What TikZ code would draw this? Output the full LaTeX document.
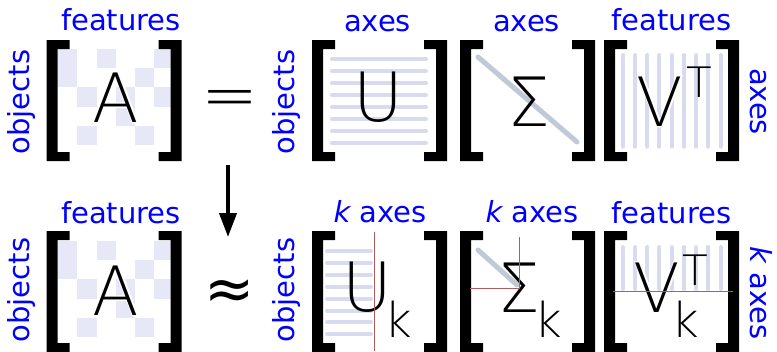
\documentclass[tikz,border=0pt]{standalone}
\usepackage{fontspec}
\setmainfont{DejaVu Sans}
\newfontfamily\thinf{DejaVu Sans ExtraLight}
\newfontfamily\thinhalo[FakeBold=4]{DejaVu Sans ExtraLight}
\newfontfamily\thinbold[FakeBold=1.5]{DejaVu Sans ExtraLight}
\usetikzlibrary{arrows.meta}
\definecolor{lab}{RGB}{0,0,255}
\definecolor{lav}{RGB}{230,232,248}
\definecolor{lline}{RGB}{216,219,240}
\definecolor{dgray}{RGB}{192,201,216}
\definecolor{redl}{RGB}{176,92,92}
\newcommand{\approxsym}{{\thinbold\fontsize{66}{66}\selectfont\iffontchar\font"2248 ≈\else{\normalfont\fontsize{60}{60}\selectfont ≈}\fi}}
\begin{document}
\begin{tikzpicture}[x=1pt,y=-1pt,
  lbl/.style={text=lab, font=\fontsize{29}{29}\selectfont, inner sep=0pt, anchor=base},
  bigl/.style={font=\thinf\fontsize{68}{68}\selectfont, inner sep=0pt, anchor=base},
  bighalo/.style={font=\thinhalo\fontsize{68}{68}\selectfont, inner sep=0pt, anchor=base, text=white},
  bigsub/.style={font=\thinf\fontsize{48}{48}\selectfont, inner sep=0pt, anchor=base},
  bigsup/.style={font=\thinf\fontsize{42}{42}\selectfont, inner sep=0pt, anchor=north},
  opsym/.style={inner sep=0pt, anchor=center},
  cellf/.style={fill=lav},
  hline/.style={draw=lline, line width=4pt, line cap=round},
  dline/.style={draw=dgray, line width=5pt, line cap=round},
  cutline/.style={draw=redl, line width=1pt},
  brk/.style={fill=black},
  conn/.style={line width=4pt, -{Triangle[length=24pt,width=17pt]}},
  brackets/.pic={
    \fill[brk] (0,0) -- (23,0) -- (23,9) -- (11,9) -- (11,112) -- (23,112) -- (23,121) -- (0,121) -- cycle;
    \fill[brk] (135,0) -- (112,0) -- (112,9) -- (124,9) -- (124,112) -- (112,112) -- (112,121) -- (135,121) -- cycle;
  }]
\useasboundingbox (0,0) rectangle (777,351);

% ---------- checkerboards (A) ----------
\foreach \yo in {49,241}{
  \foreach \r/\c in {1/1,1/3,1/6,2/1,2/5,3/2,3/4,3/6,4/4,5/2,5/5}
    \fill[cellf] ({58.3+(\c-1)*19.17},{\yo+(\r-1)*19.2}) rectangle ++(19.17,19.2);
}

% ---------- U lines ----------
\foreach \i in {0,...,7}
  \draw[hline] (332,{59.3+12*\i}) -- (426,{59.3+12*\i});
\foreach \i in {0,...,7}
  \draw[hline] (327,{251+11.9*\i}) -- (371,{251+11.9*\i});

% ---------- Sigma lines ----------
\draw[dline] (478,57) -- (577,142);
\draw[dline] (478,250) -- (517,285);

% ---------- V lines ----------
\foreach \i in {0,...,8}
  \draw[hline] ({622.7+12.25*\i},55) -- ({622.7+12.25*\i},146.7);
\foreach \i in {0,...,8}
  \draw[hline] ({622.7+12.25*\i},247) -- ({622.7+12.25*\i},289);

% ---------- brackets ----------
\pic at (46.5,40) {brackets};
\pic at (312,40) {brackets};
\pic at (460,40) {brackets};
\pic at (604,40) {brackets};
\pic at (46.5,231) {brackets};
\pic at (312,231) {brackets};
\pic at (460,231) {brackets};
\pic at (604,231) {brackets};

% ---------- big letters, top ----------
\node[bighalo] (Ah) at (116,122) {A};
\node[bigl] (A) at (116,122) {A};
\node[bigl] (U) at (378.5,121) {U};
\node[bigl] (S) at (529,126) {Σ};
\node[bighalo] (Vh) at (660,126) {V};
\node[bigl] (V) at (660,126) {V};
\node[bigsup] (VT) at (699.5,67) {T};

% ---------- big letters, bottom ----------
\node[bighalo] (A2h) at (116,315) {A};
\node[bigl] (A2) at (116,315) {A};
\node[bigl] (U2) at (367,311) {U};
\node[bigsub] (U2k) at (398.5,337) {k};
\node[bigl] (S2) at (518.5,312) {Σ};
\node[bigsub] (S2k) at (548,337) {k};
\node[bighalo] (V2h) at (657,312) {V};
\node[bigl] (V2) at (657,312) {V};
\node[bigsup] (V2T) at (695,255) {T};
\node[bigsub] (V2k) at (685,337) {k};

% ---------- cut lines ----------
\coordinate (cu1) at (374,232);
\coordinate (cu2) at (374,351);
\draw[cutline] (cu1) -- (cu2);
\coordinate (cs1) at (519,237);
\coordinate (cs2) at (519,288);
\coordinate (cs3) at (470,288);
\draw[cutline] (cs1) -- (cs2) -- (cs3);
\coordinate (cv1) at (613,291);
\coordinate (cv2) at (733,291);
\draw[cutline] (cv1) -- (cv2);

% ---------- operators ----------
\node[opsym, font=\thinf\fontsize{68}{68}\selectfont] (eq) at (229.5,104) {=};
\node[opsym] (apx) at (230,295) {\approxsym};
\coordinate (arrS) at (228,165);
\coordinate (arrE) at (228,237);
\draw[conn] (arrS) -- (arrE);

% ---------- labels, top ----------
\node[lbl] (l1) at (121,30) {features};
\node[lbl, rotate=90] (l2) at (29.5,102) {objects};
\node[lbl] (l3) at (377.5,31.5) {axes};
\node[lbl, rotate=90] (l4) at (294,102) {objects};
\node[lbl] (l5) at (526.5,31.5) {axes};
\node[lbl] (l6) at (671.5,30) {features};
\node[lbl, rotate=-90] (l7) at (750,101.5) {axes};

% ---------- labels, bottom ----------
\node[lbl] (m1) at (121,223) {features};
\node[lbl, rotate=90] (m2) at (29.5,290) {objects};
\node[lbl] (m3) at (380,222) {{\itshape k} axes};
\node[lbl, rotate=90] (m4) at (294,290) {objects};
\node[lbl] (m5) at (532,222) {{\itshape k} axes};
\node[lbl] (m6) at (671.5,223) {features};
\node[lbl, rotate=-90] (m7) at (750,293) {{\itshape k} axes};
\end{tikzpicture}
\end{document}
